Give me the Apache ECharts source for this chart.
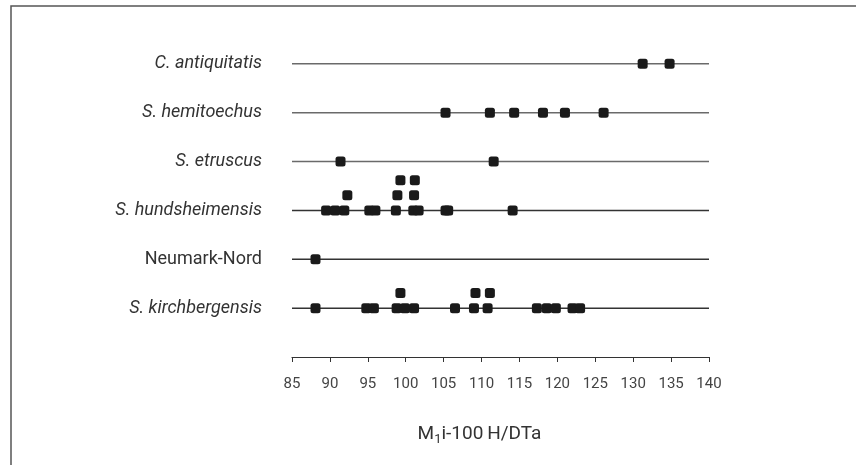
<!DOCTYPE html>
<html>
<head>
<meta charset="utf-8">
<script src="https://cdn.jsdelivr.net/npm/echarts@6/dist/echarts.min.js"></script>
<style>html,body{margin:0;padding:0;background:#fff}#c{width:856px;height:465px}</style>
</head>
<body>
<div id="c"></div>
<script>
// rows from bottom (1) to top (6)
const categories = ['S. kirchbergensis', 'Neumark-Nord', 'S. hundsheimensis', 'S. etruscus', 'S. hemitoechus', 'C. antiquitatis'];
const italicRows = [true, false, true, true, true, true];
const xTicks = { min: 85, max: 140, interval: 5 };

// values: base row, then stacked levels above (level 1, level 2)
const kirchbergensis = [88.1, 94.8, 95.8, 98.8, 99.9, 101.1, 106.5, 109.0, 110.8, 117.3, 118.6, 119.8, 122.0, 123.0];
const kirchbergensisL1 = [99.3, 109.2, 111.1];
const neumarkNord = [88.1];
const hundsheimensis = [89.5, 90.7, 91.9, 95.2, 96.0, 98.7, 101.0, 101.7, 105.25, 105.6, 114.1];
const hundsheimensisL1 = [92.3, 98.9, 101.1];
const hundsheimensisL2 = [99.3, 101.2];
const etruscus = [91.4, 111.6];
const hemitoechus = [105.25, 111.1, 114.3, 118.1, 121.0, 126.1];
const antiquitatis = [131.25, 134.8];

const rows = [
  [kirchbergensis, kirchbergensisL1],
  [neumarkNord],
  [hundsheimensis, hundsheimensisL1, hundsheimensisL2],
  [etruscus],
  [hemitoechus],
  [antiquitatis]
];
const STACK = 0.31;

const pts = [];
rows.forEach((levels, ri) => {
  levels.forEach((vals, li) => {
    vals.forEach(v => pts.push([v, ri + 1 + li * STACK]));
  });
});

const lineSeries = categories.map((c, i) => ({
  type: 'line',
  silent: true,
  symbol: 'none',
  z: 1,
  lineStyle: { color: i >= 3 ? '#6a6a6a' : '#333', width: 1.5 },
  data: [[xTicks.min, i + 1], [xTicks.max, i + 1]]
}));

const chart = echarts.init(document.getElementById('c'), null, { renderer: 'canvas' });
chart.setOption({
  animation: false,
  backgroundColor: '#fff',
  textStyle: { fontFamily: 'Roboto, "Liberation Sans", sans-serif' },
  grid: { left: 292, right: 147, top: 15, bottom: 108 },
  xAxis: {
    type: 'value',
    min: xTicks.min, max: xTicks.max, interval: xTicks.interval,
    axisLine: { lineStyle: { color: '#333', width: 1.2 } },
    axisTick: { length: 5, lineStyle: { color: '#333' } },
    splitLine: { show: false },
    axisLabel: { color: '#444', fontSize: 15, margin: 20, fontFamily: 'Roboto' },
    name: '{m|M}{s|1}{m|i-100\u2009H/DTa}',
    nameLocation: 'middle',
    nameGap: 66,
    nameTextStyle: {
      padding: [0, 42, 0, 0],
      rich: {
        m: { fontSize: 19, color: '#333', fontFamily: 'Roboto' },
        s: { fontSize: 13, color: '#333', fontFamily: 'Roboto', padding: [10, 0, 0, 0] }
      }
    }
  },
  yAxis: {
    type: 'value',
    min: 0, max: 7, interval: 1,
    axisLine: { show: false },
    axisTick: { show: false },
    splitLine: { show: false },
    axisLabel: {
      margin: 30,
      formatter: v => {
        const i = Math.round(v) - 1;
        if (i < 0 || i >= categories.length) return '';
        return italicRows[i] ? '{it|' + categories[i] + '}' : '{n|' + categories[i] + '}';
      },
      rich: {
        it: { fontSize: 18, fontStyle: 'italic', color: '#333', fontFamily: 'Roboto' },
        n: { fontSize: 18, color: '#333', fontFamily: 'Roboto' }
      }
    }
  },
  graphic: [{
    type: 'polyline',
    silent: true,
    shape: { points: [[11, 465], [11, 6], [856, 6]] },
    style: { stroke: '#555', lineWidth: 1.5, fill: null }
  }],
  series: lineSeries.concat([{
    type: 'scatter',
    symbol: 'roundRect',
    symbolSize: 10,
    z: 5,
    itemStyle: { color: '#1a1a1a', opacity: 1 },
    data: pts
  }])
});
</script>
</body>
</html>
